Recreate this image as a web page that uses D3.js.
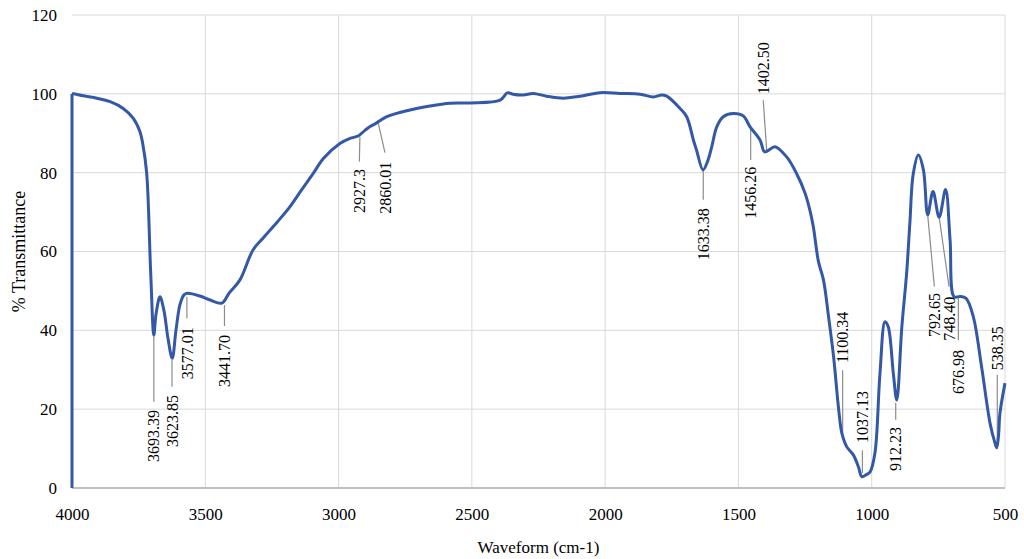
<!DOCTYPE html>
<html>
<head>
<meta charset="utf-8">
<script src="https://cdn.jsdelivr.net/npm/d3@7"></script>
<style>
  html, body { margin: 0; padding: 0; background: #fff; }
  svg { display: block; }
  text { font-family: "Liberation Serif", "Times New Roman", serif; fill: #000; }
</style>
</head>
<body>
<svg id="chart" width="1024" height="559"></svg>
<script>
// ---- data ----
const wavenumbers = [4000, 4000, 3995, 3958, 3920, 3857, 3808, 3770, 3745, 3735, 3720, 3705, 3693, 3685, 3670, 3655, 3640, 3624, 3610, 3595, 3580, 3567, 3520, 3482, 3438, 3410, 3370, 3321, 3282, 3230, 3182, 3140, 3095, 3057, 2995, 2957, 2927, 2900, 2882, 2860, 2819, 2732, 2657, 2582, 2507, 2394, 2369, 2363, 2345, 2307, 2270, 2220, 2157, 2094, 2019, 1944, 1869, 1819, 1788, 1769, 1719, 1694, 1669, 1657, 1633, 1615, 1600, 1581, 1557, 1519, 1482, 1457, 1419, 1402, 1380, 1363, 1319, 1282, 1250, 1232, 1219, 1200, 1181, 1162, 1143, 1125, 1112, 1094, 1069, 1050, 1037, 1020, 1006, 988, 969, 950, 938, 919, 906, 887, 869, 857, 844, 825, 806, 790, 770, 747, 723, 706, 691, 669, 646, 619, 588, 556, 538, 531, 524, 519, 500];
const transmittance = [0, 100, 100, 99.5, 99.1, 98.0, 96.3, 93.8, 90.4, 87.5, 80, 55, 38.8, 44, 48.5, 45, 38, 32.9, 40, 46.5, 49, 49.4, 48.7, 47.7, 46.9, 49.5, 52.8, 60.4, 63.5, 67.5, 71.4, 75.5, 79.8, 83.6, 87.4, 88.7, 89.3, 90.8, 91.7, 92.5, 94.2, 95.9, 96.9, 97.6, 97.7, 98.4, 100.2, 100.3, 99.9, 99.7, 100.1, 99.4, 98.9, 99.4, 100.3, 100.1, 99.9, 99.2, 99.7, 99.4, 96.3, 94.2, 88.3, 85.7, 80.7, 83, 86.6, 91.7, 94.2, 95.0, 94.4, 91.7, 88.3, 85.3, 86, 86.6, 84.0, 79.8, 74.8, 70.5, 66.3, 57.5, 52.8, 43.5, 33.3, 20.6, 13.9, 10.5, 8.4, 5.4, 2.9, 3.4, 4.1, 8.8, 29.1, 42.2, 40.9, 29.1, 22.3, 40.9, 54.5, 67.1, 79.8, 84.5, 80.7, 69.3, 75.2, 68.7, 75.7, 62.9, 48.5, 48.6, 48.1, 43.5, 30.8, 16.4, 11.5, 10.2, 13.5, 18.9, 26.6];
const xTicks = [4000, 3500, 3000, 2500, 2000, 1500, 1000, 500];
const yTicks = [0, 20, 40, 60, 80, 100, 120];
const peakLabels = ["3693.39", "3623.85", "3577.01", "3441.70", "2927.3", "2860.01", "1633.38", "1456.26", "1402.50", "1100.34", "1037.13", "912.23", "792.65", "748.40", "676.98", "538.35"];

// ---- annotation layout (leader from curve to label, in data units) ----
const annotLayout = [
  {x1: 3693, y1: 38.8, x2: 3693, y2: 21.9, ty: 19.8, up: false},
  {x1: 3625, y1: 32.5, x2: 3625, y2: 25.7, ty: 23.6, up: false},
  {x1: 3569, y1: 48.5, x2: 3569, y2: 43.0, ty: 40.8, up: false},
  {x1: 3428, y1: 46.4, x2: 3428, y2: 41.1, ty: 38.8, up: false},
  {x1: 2920, y1: 89.1, x2: 2922, y2: 82.8, ty: 80.9, up: false},
  {x1: 2851, y1: 92.5, x2: 2826, y2: 85.1, ty: 82.8, up: false},
  {x1: 1632, y1: 80.7, x2: 1632, y2: 73.1, ty: 71.0, up: false},
  {x1: 1454, y1: 91.7, x2: 1454, y2: 83.2, ty: 81.5, up: false},
  {x1: 1394, y1: 85.7, x2: 1407, y2: 98.4, ty: 99.9, up: true},
  {x1: 1109, y1: 14.0, x2: 1109, y2: 29.9, ty: 31.7, up: true},
  {x1: 1035, y1: 3.8, x2: 1035, y2: 9.6, ty: 11.4, up: true},
  {x1: 910, y1: 21.6, x2: 910, y2: 17.3, ty: 15.5, up: false},
  {x1: 790, y1: 69.3, x2: 765, y2: 51.1, ty: 49.5, up: false},
  {x1: 747, y1: 68.7, x2: 710, y2: 51.1, ty: 48.5, up: false},
  {x1: 675, y1: 48.5, x2: 675, y2: 37.5, ty: 35.0, up: false},
  {x1: 529, y1: 10.5, x2: 529, y2: 28.7, ty: 29.9, up: true}
];

const svg = d3.select("#chart");
const x = d3.scaleLinear().domain([4000, 500]).range([72, 1005]);
const y = d3.scaleLinear().domain([0, 120]).range([488, 15]);

// gridlines
svg.append("g").selectAll("line").data(yTicks.filter(d => d > 0)).join("line")
  .attr("x1", x(4000)).attr("x2", x(500))
  .attr("y1", d => y(d)).attr("y2", d => y(d))
  .attr("stroke", "#d9d9d9").attr("stroke-width", 1);
svg.append("g").selectAll("line").data(xTicks.filter(d => d !== 4000)).join("line")
  .attr("x1", d => x(d)).attr("x2", d => x(d))
  .attr("y1", y(0)).attr("y2", y(120))
  .attr("stroke", "#d9d9d9").attr("stroke-width", 1);

// bottom axis line
svg.append("line")
  .attr("x1", x(4000)).attr("x2", x(500))
  .attr("y1", y(0)).attr("y2", y(0))
  .attr("stroke", "#bfbfbf").attr("stroke-width", 2);

// axes via d3 axis (labels only)
const xAxis = svg.append("g").attr("transform", `translate(0,${y(0)})`)
  .call(d3.axisBottom(x).tickValues(xTicks).tickSize(0).tickPadding(20).tickFormat(d3.format("d")));
xAxis.select(".domain").remove();
xAxis.selectAll("text").style("font-size", "17px").style("font-family", "Liberation Serif");

const yAxis = svg.append("g").attr("transform", `translate(${x(4000)},0)`)
  .call(d3.axisLeft(y).tickValues(yTicks).tickSize(0).tickPadding(15).tickFormat(d3.format("d")));
yAxis.select(".domain").remove();
yAxis.selectAll("text").style("font-size", "17px").style("font-family", "Liberation Serif");

// leader lines
svg.append("g").selectAll("line").data(annotLayout).join("line")
  .attr("x1", d => x(d.x1)).attr("y1", d => y(d.y1))
  .attr("x2", d => x(d.x2)).attr("y2", d => y(d.y2))
  .attr("stroke", "#8c8c8c").attr("stroke-width", 1.2);

// spectrum line: first (vertical) segment straight, remainder smoothed
const pts = transmittance.map((v, i) => [wavenumbers[i], v]);
const straight = d3.line().x(d => x(d[0])).y(d => y(d[1])).curve(d3.curveLinear);
const smooth = d3.line().x(d => x(d[0])).y(d => y(d[1])).curve(d3.curveCatmullRom.alpha(0.5));
const lineColor = "#3358a6";
svg.append("path")
  .attr("d", straight(pts.slice(0, 2)))
  .attr("fill", "none").attr("stroke", lineColor).attr("stroke-width", 3);
svg.append("path")
  .attr("d", smooth(pts.slice(1)))
  .attr("fill", "none").attr("stroke", lineColor).attr("stroke-width", 3)
  .attr("stroke-linejoin", "round");

// peak labels
svg.append("g").selectAll("text").data(annotLayout).join("text")
  .attr("transform", d => `translate(${x(d.x2)},${y(d.ty)}) rotate(-90)`)
  .attr("text-anchor", d => d.up ? "start" : "end")
  .attr("dy", "0.35em")
  .style("font-size", "16px")
  .text((d, i) => peakLabels[i]);

// axis titles
svg.append("text")
  .attr("transform", `translate(19,${y(60)}) rotate(-90)`)
  .attr("text-anchor", "middle")
  .attr("dy", "0.35em")
  .style("font-size", "18px")
  .text("% Transmittance");
svg.append("text")
  .attr("x", x(2250)).attr("y", 553)
  .attr("text-anchor", "middle")
  .style("font-size", "17px")
  .text("Waveform (cm-1)");
</script>
</body>
</html>
